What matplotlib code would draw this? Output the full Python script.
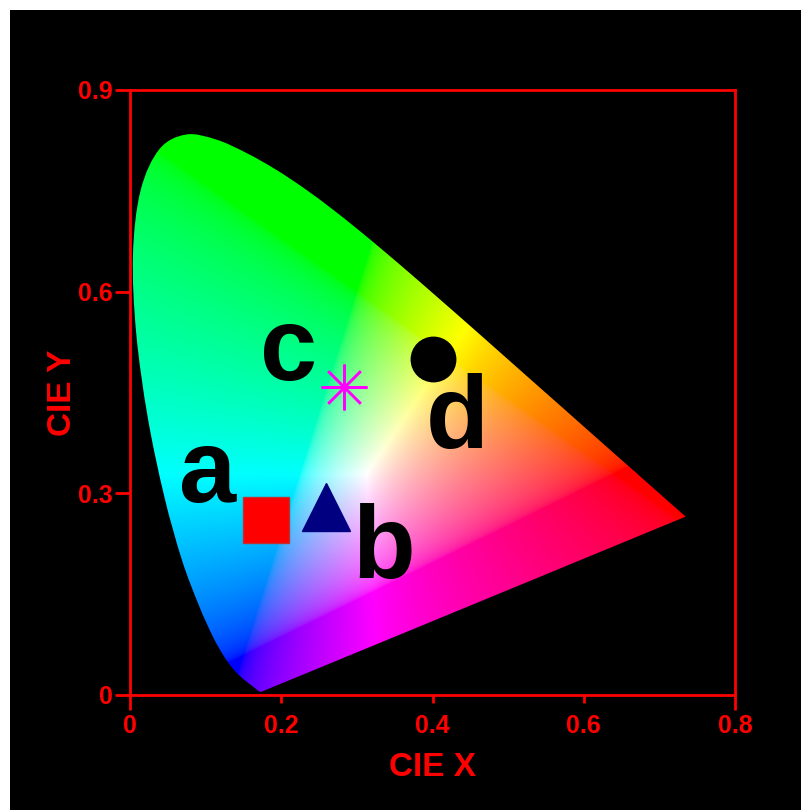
import numpy as np
import matplotlib
matplotlib.use("Agg")
import matplotlib.pyplot as plt
from matplotlib.patches import PathPatch, Rectangle
from matplotlib.path import Path

# CIE 1931 spectral locus (x, y) at 380..700 nm
locus_x = [0.1741, 0.1740, 0.1738, 0.1736, 0.1733, 0.1730, 0.1726, 0.1721, 0.1714, 0.1703,
           0.1689, 0.1669, 0.1644, 0.1611, 0.1566, 0.1510, 0.1440, 0.1355, 0.1241, 0.1096,
           0.0913, 0.0687, 0.0454, 0.0235, 0.0082, 0.0039, 0.0139, 0.0389, 0.0743, 0.1142,
           0.1547, 0.1929, 0.2296, 0.2658, 0.3016, 0.3373, 0.3731, 0.4087, 0.4441, 0.4788,
           0.5125, 0.5448, 0.5752, 0.6029, 0.6270, 0.6482, 0.6658, 0.6801, 0.6915, 0.7006,
           0.7079, 0.7140, 0.7190, 0.7230, 0.7260, 0.7283, 0.7300, 0.7311, 0.7320, 0.7334,
           0.7347]
locus_y = [0.0050, 0.0050, 0.0049, 0.0049, 0.0048, 0.0048, 0.0048, 0.0048, 0.0051, 0.0058,
           0.0069, 0.0086, 0.0109, 0.0138, 0.0177, 0.0227, 0.0297, 0.0399, 0.0578, 0.0868,
           0.1327, 0.2007, 0.2950, 0.4127, 0.5384, 0.6548, 0.7502, 0.8120, 0.8338, 0.8262,
           0.8059, 0.7816, 0.7543, 0.7243, 0.6923, 0.6589, 0.6245, 0.5896, 0.5547, 0.5202,
           0.4866, 0.4544, 0.4242, 0.3965, 0.3725, 0.3514, 0.3340, 0.3197, 0.3083, 0.2993,
           0.2920, 0.2859, 0.2809, 0.2770, 0.2740, 0.2717, 0.2700, 0.2689, 0.2680, 0.2666,
           0.2653]

# measured CIE coordinates of the four samples
labels = ["a", "b", "c", "d"]
cie_x = [0.180, 0.259, 0.283, 0.401]
cie_y = [0.260, 0.280, 0.458, 0.500]
# where the letters sit
label_x = [0.102, 0.336, 0.210, 0.432]
label_y = [0.287, 0.174, 0.469, 0.367]

xticks = [0, 0.2, 0.4, 0.6, 0.8]
yticks = [0, 0.3, 0.6, 0.9]

red = "#ff0000"
font = "Liberation Sans"

fig = plt.figure(figsize=(8.01, 8.10), dpi=100, facecolor="white")
fig.patches.append(Rectangle((10 / 801, 0), 791 / 801, 800 / 810, transform=fig.transFigure,
                             facecolor="black", edgecolor="none", zorder=-10))
ax = fig.add_axes([130 / 801, 115 / 810, 605 / 801, 605 / 810])
ax.set_facecolor("black")

# colour field inside the horseshoe: xy -> XYZ -> sRGB
gx, gy = np.meshgrid(np.linspace(0.0, 0.8, 640), np.linspace(0.001, 0.9, 720))
X = gx / gy
Z = (1 - gx - gy) / gy
R = 3.2406 * X - 1.5372 - 0.4986 * Z
G = -0.9689 * X + 1.8758 + 0.0415 * Z
B = 0.0557 * X - 0.2040 + 1.0570 * Z
rgb = np.clip(np.dstack([R, G, B]), 0, None)
rgb = rgb / rgb.max(axis=2, keepdims=True)
rgb = np.clip(rgb, 0, 1) ** (1 / 2.2)

im = ax.imshow(rgb, origin="lower", extent=[0, 0.8, 0, 0.9], aspect="auto", zorder=1,
               interpolation="bilinear")

# horseshoe outline drawn as a smooth bezier through the locus points,
# straight purple line back to the start
pts = np.column_stack([locus_x, locus_y])
verts = [pts[0]]
codes = [Path.MOVETO]
for i in range(len(pts) - 1):
    p0 = pts[max(i - 1, 0)]
    p1, p2 = pts[i], pts[i + 1]
    p3 = pts[min(i + 2, len(pts) - 1)]
    verts += [p1 + (p2 - p0) / 6, p2 - (p3 - p1) / 6, p2]
    codes += [Path.CURVE4] * 3
verts += [pts[0], pts[0]]
codes += [Path.LINETO, Path.CLOSEPOLY]
gamut = PathPatch(Path(verts, codes), facecolor="none", edgecolor="none",
                  transform=ax.transData)
ax.add_patch(gamut)
im.set_clip_path(gamut)

# sample markers
ax.plot(cie_x[0], cie_y[0], "s", ms=33, mfc=red, mec="#c03030", mew=1, zorder=3)
ax.plot(cie_x[1], cie_y[1], "^", ms=34, mfc="#000080", mec="#000080", zorder=3)
ax.plot(cie_x[2], cie_y[2], marker=(8, 2, 0), ms=33, color="#ff00ff", mew=1.8, zorder=3)
ax.plot(cie_x[3], cie_y[3], "o", ms=32, mfc="black", mec="black", zorder=3)

for t, lx, ly in zip(labels, label_x, label_y):
    ax.text(lx, ly, t, ha="center", va="baseline", fontsize=74, fontweight="bold",
            family=font, color="black", zorder=4)

ax.set_xlim(0, 0.8)
ax.set_ylim(0, 0.9)
ax.set_xticks(xticks)
ax.set_yticks(yticks)
ax.set_xticklabels(["0", "0.2", "0.4", "0.6", "0.8"])
ax.set_yticklabels(["0", "0.3", "0.6", "0.9"])
for s in ax.spines.values():
    s.set_color(red)
    s.set_linewidth(2)
ax.tick_params(axis="x", colors=red, length=6, width=2, pad=8, labelsize=18)
ax.tick_params(axis="y", colors=red, length=11, width=2, pad=1.5, labelsize=18)
for t in [ax.xaxis.get_major_ticks()[0], ax.xaxis.get_major_ticks()[-1]]:
    t.tick1line.set_markersize(11)
for lab in ax.get_xticklabels() + ax.get_yticklabels():
    lab.set_fontfamily(font)
    lab.set_fontweight("bold")

ax.set_xlabel("CIE X", fontsize=24, fontweight="bold", family=font, color=red, labelpad=10)
ax.set_ylabel("CIE Y", fontsize=24, fontweight="bold", family=font, color=red, labelpad=0)

fig.savefig("out.png", dpi=100, facecolor="white")
